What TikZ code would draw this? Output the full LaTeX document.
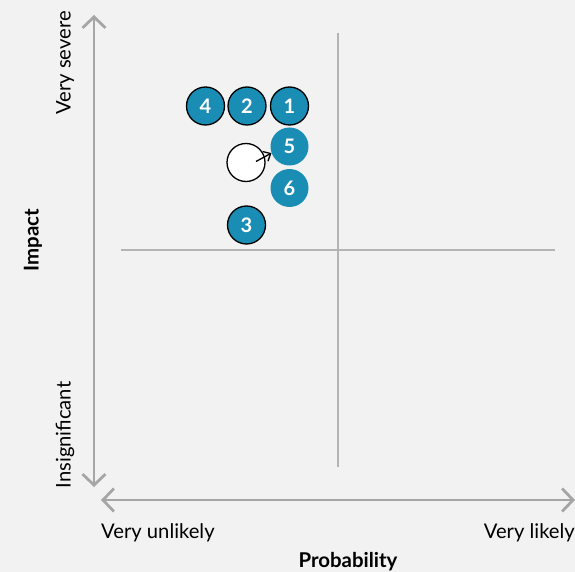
\documentclass[tikz,border=0pt]{standalone}
\usepackage{fontspec}
\setmainfont{Lato}
\usetikzlibrary{arrows.meta}
\definecolor{bg}{HTML}{F2F2F2}
\definecolor{axisgray}{HTML}{A6A6A6}
\definecolor{quadgray}{HTML}{B4B4B4}
\definecolor{teal}{HTML}{1A8DB5}
\tikzset{
  axis/.style={draw=axisgray, line width=2.8pt, -{Straight Barb[length=11pt,width=23pt,line width=2.8pt]}},
  quad/.style={draw=quadgray, line width=1.1pt},
  risk/.style={circle, fill=teal, minimum size=38pt, inner sep=0pt, text=white, font=\fontsize{20}{20}\selectfont\bfseries},
  riskb/.style={risk, draw=black, line width=1.3pt},
  lab/.style={font=\fontsize{20.2}{20.2}\selectfont, text=black, inner sep=0pt},
  blab/.style={font=\fontsize{20.4}{20.4}\selectfont\bfseries, text=black, inner sep=0pt}
}
\begin{document}
\begin{tikzpicture}[x=1pt,y=-1pt]
\fill[bg] (0,0) rectangle (575,572);
\useasboundingbox (0,0) rectangle (575,572);
% coordinates
\coordinate (vtop) at (94,15);
\coordinate (vbot) at (94,487);
\coordinate (vmid) at (94,251);
\coordinate (hleft) at (101,500);
\coordinate (hright) at (575,500);
\coordinate (hmid) at (338,500);
\coordinate (qt) at (338,33);
\coordinate (qb) at (338,467);
\coordinate (ql) at (121,250);
\coordinate (qr) at (555,250);
% axes
\draw[axis] (vmid) -- (vtop);
\draw[axis] (vmid) -- (vbot);
\draw[axis] (hmid) -- (hleft);
\draw[axis] (hmid) -- (hright);
% quadrant lines
\draw[quad] (qt) -- (qb);
\draw[quad] (ql) -- (qr);
% labels
\node[lab, rotate=90] (vs) at (65,63) {Very severe};
\node[lab, rotate=90] (ins) at (65,435) {Insignificant};
\node[blab, rotate=90] (imp) at (33,240) {Impact};
\node[lab, anchor=west] (vu) at (101,533) {Very unlikely};
\node[lab, anchor=east] (vl) at (575,533) {Very likely};
\node[blab] (prob) at (348,561.5) {Probability};
% risks
\node[riskb] (r4) at (205.5,106) {4};
\node[riskb] (r2) at (247,106) {2};
\node[riskb] (r1) at (289.5,106) {1};
\node[risk] (r5) at (289.5,146.5) {5};
\node[risk] (r6) at (289.5,188) {6};
\node[riskb] (r3) at (246.5,225) {3};
\node[circle, fill=white, draw=black, line width=1.3pt, minimum size=38pt, inner sep=0pt] (w) at (246,162.5) {};
\draw[black, line width=1.3pt, -{Straight Barb[length=6pt,width=11pt,line width=1.3pt]}] (w.center) ++(10,-1) coordinate (ws) (ws) -- (r5.-160);
\end{tikzpicture}
\end{document}
